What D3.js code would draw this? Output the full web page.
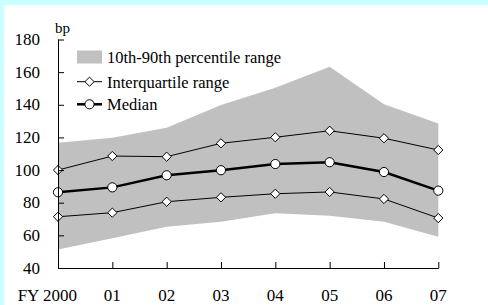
<!DOCTYPE html>
<html><head><meta charset="utf-8">
<script src="https://cdn.jsdelivr.net/npm/d3@7"></script>
</head><body style="margin:0;background:#ccffff">
<svg id="c" width="488" height="305" style="display:block"></svg>
<script>
const years = ["FY 2000","01","02","03","04","05","06","07"];
const p90 = [116.8,119.8,126.0,139.9,150.5,163.3,140.3,128.6];
const p10 = [51.4,58.2,65.3,68.4,73.5,72.0,68.4,59.2];
const q75 = [100.0,108.6,108.2,116.4,120.1,124.1,119.5,112.3];
const q25 = [71.4,73.9,80.6,83.3,85.5,86.6,82.3,70.6];
const median = [86.4,89.4,96.8,99.9,103.7,104.8,98.8,87.4];
const yTicks = [40,60,80,100,120,140,160,180];
const legendLabels = ["10th-90th percentile range","Interquartile range","Median"];

const FONT = '"Times New Roman"';
const svg = d3.select("#c");
svg.append("rect").attr("x",4).attr("y",5).attr("width",484).attr("height",300).attr("fill","#fff");

const x = d3.scalePoint().domain(years).range([58,438.3]);
const y = d3.scaleLinear().domain([40,180]).range([268,39.5]);

const diamond = "M0,-4.6L4.6,0L0,4.6L-4.6,0Z";
const circle = d3.symbol().type(d3.symbolCircle).size(66)();

svg.append("path")
  .datum(years.map((d,i)=>({x:d,hi:p90[i],lo:p10[i]})))
  .attr("fill","#c0c0c0")
  .attr("d", d3.area().x(d=>x(d.x)).y0(d=>y(d.lo)).y1(d=>y(d.hi)));

const line = d3.line().x(d=>x(d.x)).y(d=>y(d.v));
function series(vals, w, shape){
  const data = years.map((d,i)=>({x:d,v:vals[i]}));
  svg.append("path").datum(data).attr("fill","none").attr("stroke","#000").attr("stroke-width",w).attr("d",line);
  svg.selectAll(null).data(data).enter().append("path")
    .attr("transform",d=>`translate(${x(d.x)},${y(d.v)})`)
    .attr("d",shape==="d"?diamond:circle).attr("fill","#fff").attr("stroke","#000").attr("stroke-width",1);
}
series(q75,1,"d");
series(q25,1,"d");
series(median,2.5,"c");

const yAxis = d3.axisRight(y).tickValues(yTicks).tickSize(6).tickFormat("");
const ga = svg.append("g").attr("transform","translate(58,0)").call(yAxis);
ga.select(".domain").attr("d","M0.5,39.5V268.5");
ga.selectAll("line").attr("stroke","#000");
const xAxis = d3.axisTop(x).tickSize(6).tickFormat("");
const gx = svg.append("g").attr("transform","translate(0,268)").call(xAxis);
gx.select(".domain").attr("d",`M58,0.5H${438.3+0.5}`);
gx.selectAll("path,line").attr("stroke","#000");

function txt(sel, size){
  return sel.attr("font-family","Times New Roman").style("font-family",FONT).style("font-size",size+"px");
}
txt(svg.selectAll(null).data(yTicks).enter().append("text")
  .attr("x",40).attr("y",d=>y(d)+5.5).attr("text-anchor","end"),17).text(d=>d);
txt(svg.append("text").attr("x",55).attr("y",33),15).text("bp");

txt(svg.selectAll(null).data(years).enter().append("text")
  .attr("x",d=>x(d)+(d===years[0]?19:0)).attr("y",301)
  .attr("text-anchor",(d,i)=>i===0?"end":"middle"),17).text(d=>d);

const lg = svg.append("g");
lg.append("rect").attr("x",77).attr("y",50.5).attr("width",25).attr("height",13).attr("fill","#c0c0c0");
lg.append("line").attr("x1",77).attr("x2",102).attr("y1",81.7).attr("y2",81.7).attr("stroke","#000").attr("stroke-width",1);
lg.append("path").attr("transform","translate(89.5,81.7)").attr("d",diamond).attr("fill","#fff").attr("stroke","#000");
lg.append("line").attr("x1",77).attr("x2",102).attr("y1",104.3).attr("y2",104.3).attr("stroke","#000").attr("stroke-width",2.5);
lg.append("path").attr("transform","translate(89.5,104.3)").attr("d",circle).attr("fill","#fff").attr("stroke","#000");
[62.5,87.5,110].forEach((yy,i)=>{
  txt(lg.append("text").attr("x",107).attr("y",yy),16.5).text(legendLabels[i]);
});
</script></body></html>
